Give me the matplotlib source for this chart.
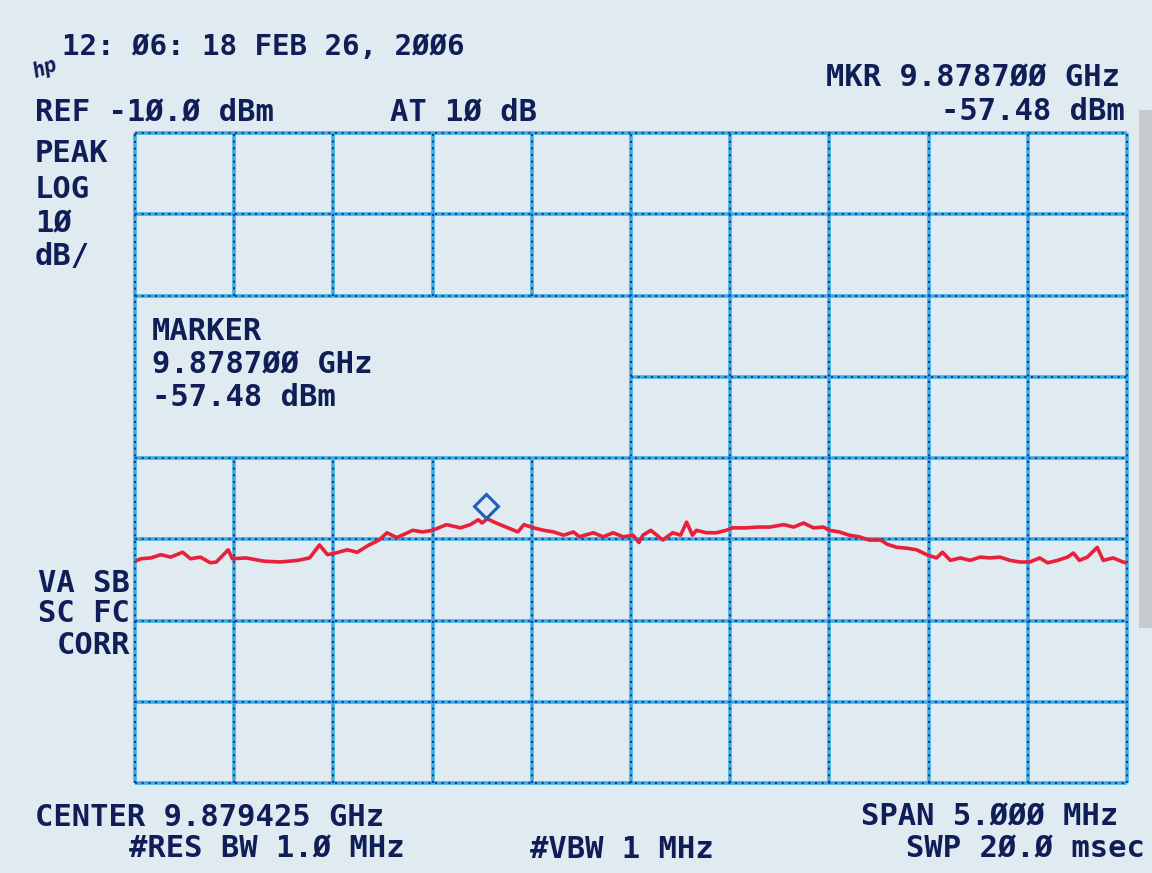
import matplotlib
matplotlib.use("Agg")
import matplotlib.pyplot as plt
import matplotlib.transforms as mtransforms
from matplotlib.patches import Rectangle
import numpy as np

# ---------------- data ----------------
center_ghz = 9.879425
span_mhz = 5.0
ref_dbm = -10.0
db_per_div = 10.0
n_xdiv = 10
n_ydiv = 8

marker_offset_mhz = -0.725          # 9.878700 GHz
marker_dbm = -57.48

trace_offset_mhz = [
    -2.50, -2.47, -2.42, -2.37, -2.32, -2.26, -2.22, -2.17, -2.12, -2.09,
    -2.03, -2.01, -1.94, -1.85, -1.77, -1.68, -1.62, -1.57, -1.53, -1.49,
    -1.43, -1.38, -1.32, -1.27, -1.23, -1.18, -1.10, -1.05, -1.00, -0.93,
    -0.86, -0.81, -0.77, -0.75, -0.725, -0.68, -0.62, -0.57, -0.54, -0.49,
    -0.44, -0.39, -0.34, -0.29, -0.26, -0.19, -0.14, -0.09, -0.04, 0.01,
    0.04, 0.06, 0.10, 0.13, 0.16, 0.21, 0.25, 0.28, 0.31, 0.33,
    0.38, 0.43, 0.48, 0.51, 0.58, 0.64, 0.70, 0.77, 0.82, 0.87,
    0.92, 0.97, 1.00, 1.05, 1.10, 1.15, 1.20, 1.26, 1.29, 1.34,
    1.39, 1.44, 1.49, 1.54, 1.57, 1.61, 1.66, 1.71, 1.76, 1.81,
    1.86, 1.91, 1.96, 2.01, 2.06, 2.10, 2.15, 2.20, 2.23, 2.26,
    2.30, 2.35, 2.38, 2.43, 2.48, 2.50,
]
trace_dbm = [
    -62.7, -62.4, -62.3, -61.9, -62.2, -61.6, -62.4, -62.2, -62.9, -62.8,
    -61.3, -62.4, -62.3, -62.7, -62.8, -62.6, -62.3, -60.7, -61.9, -61.7,
    -61.3, -61.6, -60.7, -60.1, -59.2, -59.8, -58.9, -59.1, -58.9, -58.2,
    -58.6, -58.2, -57.6, -58.0, -57.48, -58.0, -58.6, -59.1, -58.2, -58.6,
    -58.9, -59.1, -59.5, -59.1, -59.7, -59.2, -59.7, -59.2, -59.7, -59.5,
    -60.4, -59.5, -58.9, -59.5, -60.1, -59.2, -59.5, -57.9, -59.5, -58.9,
    -59.2, -59.2, -58.9, -58.6, -58.6, -58.5, -58.5, -58.2, -58.5, -58.0,
    -58.6, -58.5, -58.9, -59.1, -59.5, -59.7, -60.1, -60.1, -60.6, -61.0,
    -61.1, -61.3, -61.9, -62.3, -61.6, -62.6, -62.3, -62.6, -62.2, -62.3,
    -62.2, -62.6, -62.8, -62.8, -62.3, -62.9, -62.6, -62.2, -61.7, -62.6,
    -62.2, -61.0, -62.6, -62.3, -62.8, -62.9,
]

# ---------------- figure ----------------
W, H = 1152, 873
DPI = 100
paper = "#e0eaf1"
ink = "#101e58"
grid_c = "#38b0e2"
grid_dot = "#1c3a96"
trace_c = "#e8203a"

fig = plt.figure(figsize=(W / DPI, H / DPI), dpi=DPI, facecolor=paper)
ax = fig.add_axes([135 / W, 1 - 783 / H, 992 / W, 650 / H])
ax.set_facecolor("none")
half = span_mhz / 2
bottom_dbm = ref_dbm - n_ydiv * db_per_div
ax.set_xlim(-half, half)
ax.set_ylim(bottom_dbm, ref_dbm)
ax.axis("off")

xdivs = np.linspace(-half, half, n_xdiv + 1)
ydivs = np.linspace(bottom_dbm, ref_dbm, n_ydiv + 1)


def gline(xs, ys):
    ax.plot(xs, ys, color=grid_c, lw=2.6, solid_capstyle="butt", clip_on=False, zorder=2)
    ax.plot(xs, ys, color=grid_dot, lw=1.5, dashes=(1.0, 2.2), clip_on=False, zorder=2.1)


# marker annotation box region (grid erased): cols -2.5..0, rows -50..-30
box_x0, box_x1 = -half, 0.0
box_y0, box_y1 = -50.0, -30.0

for yv in ydivs:
    if box_y0 < yv < box_y1:
        gline([box_x1, half], [yv, yv])
    else:
        gline([-half, half], [yv, yv])
for xv in xdivs:
    if box_x0 < xv < box_x1:
        gline([xv, xv], [box_y1, ref_dbm])
        gline([xv, xv], [bottom_dbm, box_y0])
    else:
        gline([xv, xv], [bottom_dbm, ref_dbm])

# trace
ax.plot(trace_offset_mhz, trace_dbm, color=trace_c, lw=2.6, zorder=3,
        solid_joinstyle="round")

# marker diamond sitting on the trace
off = mtransforms.offset_copy(ax.transData, fig=fig, x=-1, y=13, units="dots")
ax.plot([marker_offset_mhz], [marker_dbm], marker="D", ms=12, mfc="none",
        mec="#1f5fb5", mew=2.2, transform=off, zorder=4, clip_on=False)

# grey scanner strip at right
fig.patches.append(Rectangle((1139 / W, 1 - 628 / H), 13 / W, 518 / H,
                             transform=fig.transFigure, facecolor="#c6cacd",
                             edgecolor="none", zorder=0))

# ---------------- texts ----------------
FS = 22
font = dict(family="DejaVu Sans Mono", weight="bold", color=ink, fontsize=FS)


def txt(x, y, s, ha="left", **kw):
    d = dict(font)
    d.update(kw)
    fig.text(x / W, 1 - y / H, s, ha=ha, va="center", **d)


txt(62, 47, "12: Ø6: 18 FEB 26, 2ØØ6", fontsize=21)
txt(30, 68, "hp", fontsize=15, style="italic", rotation=20)
txt(35, 112, "REF -1Ø.Ø dBm")
txt(390, 112, "AT 1Ø dB")
txt(1120, 78, "MKR 9.8787ØØ GHz", ha="right")
txt(1125, 112, "-57.48 dBm", ha="right")

txt(35, 153, "PEAK")
txt(35, 190, "LOG")
txt(35, 224, "1Ø")
txt(35, 257, "dB/")

txt(152, 331, "MARKER")
txt(152, 365, "9.8787ØØ GHz")
txt(152, 398, "-57.48 dBm")

txt(130, 583, "VA SB", ha="right")
txt(130, 614, "SC FC", ha="right")
txt(130, 646, "CORR", ha="right")

txt(35, 817, "CENTER 9.879425 GHz")
txt(1118, 817, "SPAN 5.ØØØ MHz", ha="right")
txt(405, 849, "#RES BW 1.Ø MHz", ha="right")
txt(530, 849, "#VBW 1 MHz")
txt(1145, 849, "SWP 2Ø.Ø msec", ha="right")

fig.savefig("out.png", dpi=DPI, facecolor=paper)
